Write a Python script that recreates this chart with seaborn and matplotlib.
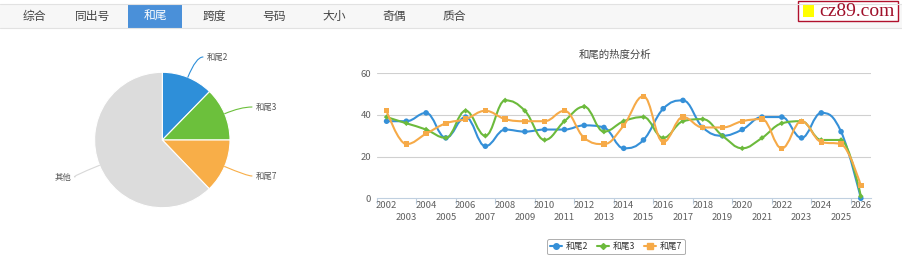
import numpy as np
import pandas as pd
import matplotlib
matplotlib.use("Agg")
import matplotlib.pyplot as plt
import seaborn as sns
from matplotlib.path import Path
from matplotlib.patches import PathPatch, Rectangle
from matplotlib.lines import Line2D

# ---------------- data ----------------
tabs = ["综合", "同出号", "和尾", "跨度", "号码", "大小", "奇偶", "质合"]
active_tab = "和尾"
years = list(range(2002, 2027))
he2 = [37, 37, 41, 29, 39, 25, 33, 32, 33, 33, 35, 34, 24, 28, 43, 47, 34, 30, 33, 39, 39, 29, 41, 32, 0]
he3 = [39, 36, 33, 29, 42, 30, 47, 42, 28, 37, 44, 32, 37, 39, 29, 37, 38, 30, 24, 29, 36, 37, 28, 28, 1]
he7 = [42, 26, 31, 36, 38, 42, 38, 37, 37, 42, 29, 26, 35, 49, 27, 39, 34, 34, 37, 38, 24, 37, 27, 26, 6]
series_names = ["和尾2", "和尾3", "和尾7"]
pie_labels = ["和尾2", "和尾3", "和尾7", "其他"]
pie_values = [12.3, 12.7, 12.8, 62.2]
title = "和尾的热度分析"
yticks = [0, 20, 40, 60]

colors = {"和尾2": "#3590d8", "和尾3": "#6cba3c", "和尾7": "#f6aa48"}
pie_colors = ["#2e8fd9", "#6cc03c", "#f8ae48", "#dcdcdc"]
markers = {"和尾2": "o", "和尾3": "D", "和尾7": "s"}
msize = {"和尾2": 16, "和尾3": 8, "和尾7": 15}

sns.set_theme(style="white")
plt.rcParams["font.family"] = ["Noto Sans CJK SC", "DejaVu Sans"]

W, H = 902, 263
fig = plt.figure(figsize=(W / 100, H / 100), dpi=100)
fig.patch.set_facecolor("white")

# ---------------- header tab bar ----------------
ax0 = fig.add_axes([0, 0, 1, 1])
ax0.set_xlim(0, W)
ax0.set_ylim(H, 0)
ax0.axis("off")
ax0.add_patch(Rectangle((0, 4), W, 24, facecolor="#f7f7f7", edgecolor="none"))
ax0.plot([0, W], [4, 4], color="#e2e2e2", lw=0.8)
ax0.plot([0, W], [28, 28], color="#e2e2e2", lw=0.8)
tab_x = [34, 93, 155, 214, 274, 334, 394, 454]
for t, x in zip(tabs, tab_x):
    if t == active_tab:
        ax0.add_patch(Rectangle((128, 5), 54, 23, facecolor="#4a90d9", edgecolor="none"))
        ax0.text(x, 16.5, t, ha="center", va="center", fontsize=8.5, color="white")
    else:
        ax0.text(x, 16.5, t, ha="center", va="center", fontsize=8.5, color="#444444")
# logo
ax0.add_patch(Rectangle((798, 1), 100, 20, facecolor="white", edgecolor="#b0102c", lw=1.0))
ax0.add_patch(Rectangle((803, 5), 11, 12, facecolor="#ffff00", edgecolor="none"))
ax0.text(819, 11.5, "cz89.com", ha="left", va="center", fontsize=14,
         family="Liberation Serif", color="#a0102a")

# ---------------- pie ----------------
axp = fig.add_axes([0, 18 / H, 300 / W, 210 / H])
cx, cy, r = 162.3, H - 140, 67.7
wedges, _ = axp.pie(pie_values, colors=pie_colors, startangle=90, counterclock=False,
                    center=(cx, cy), radius=r,
                    wedgeprops=dict(edgecolor="white", linewidth=0.8))
axp.set_xlim(0, 300)
axp.set_ylim(18, 228)
axp.set_aspect("equal")
axp.axis("off")
label_pos = {"和尾2": (207, 57, "left"), "和尾3": (256, 107, "left"),
             "和尾7": (256, 176, "left"), "其他": (71, 177, "right")}
cum = 0
tot = sum(pie_values)
for lab, v, col in zip(pie_labels, pie_values, pie_colors):
    mid_cw = (cum + v / 2) / tot * 360
    cum += v
    ang = np.deg2rad(90 - mid_cw)
    ex, ey = cx + r * np.cos(ang), cy + r * np.sin(ang)
    tx, ty, ha = label_pos[lab]
    ty = H - ty
    lx = tx - 4 if ha == "left" else tx + 4
    lcol = col if lab != "其他" else "#d8d8d8"
    axp.annotate("", xy=(ex, ey), xytext=(lx, ty),
                 arrowprops=dict(arrowstyle="-", color=lcol, lw=0.8,
                                 connectionstyle=f"angle3,angleA=0,angleB={np.rad2deg(ang):.1f}",
                                 shrinkA=0, shrinkB=0))
    axp.text(tx, ty, lab, ha=ha, va="center", fontsize=6, color="#555555")

# ---------------- line chart ----------------
left, right = 376.7, 870.7
top, bottom = 73.3, 198.3
ax = fig.add_axes([left / W, 1 - bottom / H, (right - left) / W, (bottom - top) / H])
ax.set_xlim(-0.5, len(years) - 0.5)
ax.set_ylim(0, 60)
for s in ["top", "right", "left"]:
    ax.spines[s].set_visible(False)
ax.spines["bottom"].set_color("#c0d0e0")
ax.spines["bottom"].set_linewidth(0.8)
for yv in yticks[1:]:
    ax.axhline(yv, color="#d0d0d0", lw=0.8, zorder=0)
ax.set_yticks(yticks)
ax.set_yticklabels([str(v) for v in yticks])
ax.tick_params(axis="y", length=0, pad=4, labelsize=6.8, labelcolor="#606060")

xs = np.arange(len(years))
even = xs[::2]
odd = xs[1::2]
ax.set_xticks(even)
ax.set_xticklabels([str(years[i]) for i in even])
ax.set_xticks(odd, minor=True)
ax.set_xticklabels([str(years[i]) for i in odd], minor=True)
ax.tick_params(axis="x", which="major", length=0, pad=2.2, labelsize=6.8, labelcolor="#606060")
ax.tick_params(axis="x", which="minor", length=0, pad=10.3, labelsize=6.8, labelcolor="#606060")
sec = ax.secondary_xaxis("bottom")
sec.set_xticks(np.arange(-0.5, len(years), 2))
sec.set_xticklabels([])
sec.tick_params(length=4, color="#c0d0e0", width=0.8)
sec.spines["bottom"].set_visible(False)


def spline_path(xv, yv):
    n = len(xv)
    lc = [None] * n
    rc = [None] * n
    sm, den = 1.5, 2.5
    for i in range(1, n - 1):
        px, py = xv[i], yv[i]
        lx, ly = xv[i - 1], yv[i - 1]
        nx, ny = xv[i + 1], yv[i + 1]
        lcx = (sm * px + lx) / den
        lcy = (sm * py + ly) / den
        rcx = (sm * px + nx) / den
        rcy = (sm * py + ny) / den
        if rcx != lcx:
            corr = ((rcy - lcy) * (rcx - px)) / (rcx - lcx) + py - rcy
            lcy += corr
            rcy += corr
        if lcy > ly and lcy > py:
            lcy = max(ly, py); rcy = 2 * py - lcy
        elif lcy < ly and lcy < py:
            lcy = min(ly, py); rcy = 2 * py - lcy
        if rcy > ny and rcy > py:
            rcy = max(ny, py); lcy = 2 * py - rcy
        elif rcy < ny and rcy < py:
            rcy = min(ny, py); lcy = 2 * py - rcy
        lc[i] = (lcx, lcy)
        rc[i] = (rcx, rcy)
    verts = [(xv[0], yv[0])]
    codes = [Path.MOVETO]
    for i in range(1, n):
        c1 = rc[i - 1] if rc[i - 1] is not None else (xv[i - 1], yv[i - 1])
        c2 = lc[i] if lc[i] is not None else (xv[i], yv[i])
        verts += [c1, c2, (xv[i], yv[i])]
        codes += [Path.CURVE4] * 3
    return Path(verts, codes)


df = pd.DataFrame({"year": years, "idx": xs, "和尾2": he2, "和尾3": he3, "和尾7": he7})
long = df.melt(id_vars=["year", "idx"], value_vars=series_names, var_name="series", value_name="value")
for k, name in enumerate(series_names):
    sub = long[long["series"] == name]
    p = spline_path(sub["idx"].to_numpy(float), sub["value"].to_numpy(float))
    ax.add_patch(PathPatch(p, facecolor="none", edgecolor=colors[name], lw=1.5,
                           zorder=3 + 2 * k, clip_on=False))
    sns.scatterplot(data=sub, x="idx", y="value", ax=ax, color=colors[name],
                    marker=markers[name], s=msize[name], edgecolor="none",
                    zorder=4 + 2 * k, clip_on=False, legend=False)
ax.set_xlabel("")
ax.set_ylabel("")
fig.text(615.5 / W, 1 - 55 / H, title, ha="center", va="center", fontsize=7.5, color="#444444")

handles = [Line2D([], [], color=colors[n], marker=markers[n], lw=1.5,
                  markersize=4 if n != "和尾3" else 3) for n in series_names]
leg = fig.legend(handles, series_names, loc="center", bbox_to_anchor=(616 / W, 1 - 246.7 / H),
                 ncol=3, fontsize=6.3, frameon=True, fancybox=True, handlelength=1.4,
                 handletextpad=0.4, columnspacing=1.0, borderpad=0.35, labelcolor="#333333")
leg.get_frame().set_edgecolor("#999999")
leg.get_frame().set_linewidth(0.7)

fig.savefig("out.png", dpi=100, facecolor="white")
